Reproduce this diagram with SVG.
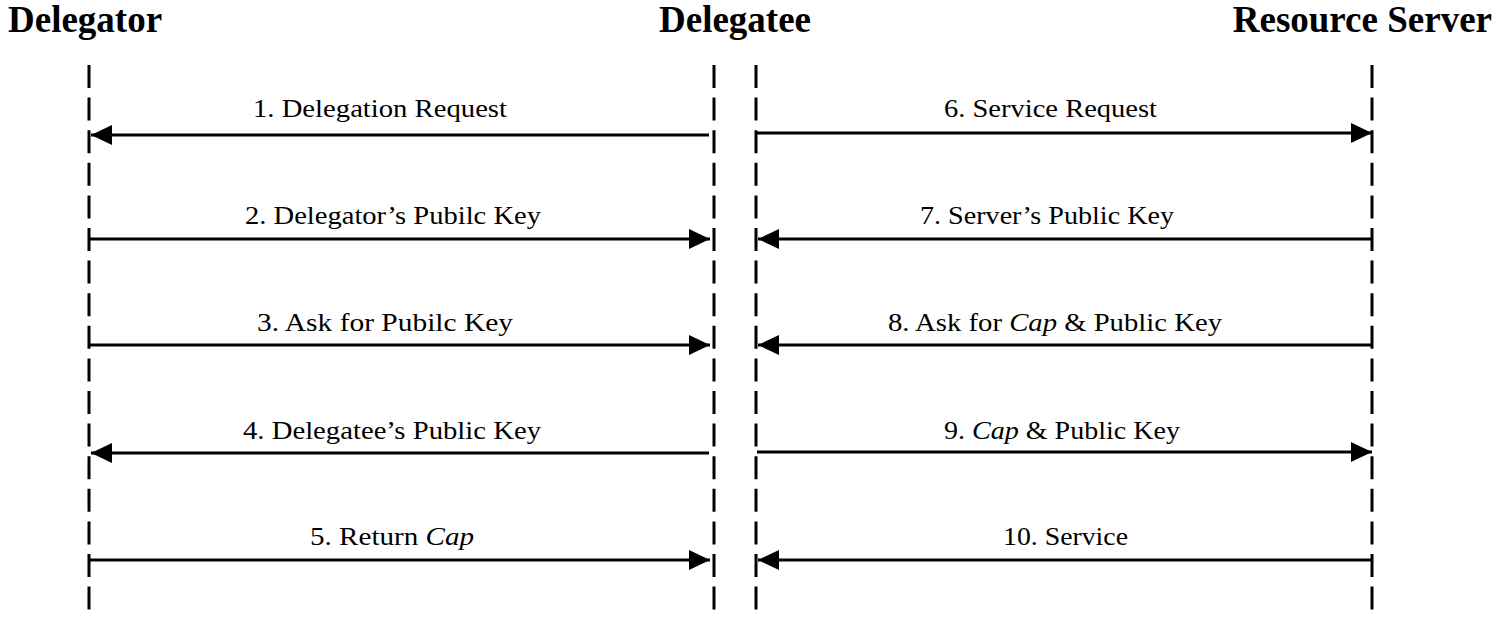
<svg xmlns="http://www.w3.org/2000/svg" width="1500" height="618" viewBox="0 0 1500 618">
<style>
.title{font-family:"Liberation Serif","Times New Roman",serif;font-weight:bold;font-size:37px;fill:#000}
.lbl{font-family:"Liberation Serif","Times New Roman",serif;font-size:25px;fill:#000}
.life{stroke:#000;stroke-width:3;stroke-dasharray:23 9.6;fill:none}
.msg{stroke:#000;stroke-width:3;fill:none;marker-end:url(#ah)}
</style>
<defs>
<marker id="ah" markerUnits="userSpaceOnUse" markerWidth="22" markerHeight="20" viewBox="0 0 22 20" refX="21" refY="10" orient="auto">
<path d="M0,0 L21,10 L0,20 Z" fill="#000"/>
</marker>
</defs>
<rect width="1500" height="618" fill="#fff"/>
<g id="delegator">
<text class="title" x="8" y="32">Delegator</text>
<line class="life" x1="89" y1="65" x2="89" y2="612"/>
</g>
<g id="delegatee">
<text class="title" x="735" y="32" text-anchor="middle">Delegatee</text>
<line class="life" x1="714" y1="65" x2="714" y2="612"/>
<line class="life" x1="756" y1="65" x2="756" y2="612"/>
</g>
<g id="resource-server">
<text class="title" x="1492" y="32" text-anchor="end">Resource Server</text>
<line class="life" x1="1372" y1="65" x2="1372" y2="612"/>
</g>
<g id="connectors">
<line class="msg" x1="709" y1="135" x2="91" y2="135"/>
<line class="msg" x1="89" y1="239" x2="710" y2="239"/>
<line class="msg" x1="89" y1="345" x2="710" y2="345"/>
<line class="msg" x1="709" y1="453" x2="91" y2="453"/>
<line class="msg" x1="89" y1="560" x2="710" y2="560"/>
<line class="msg" x1="757" y1="133" x2="1372" y2="133"/>
<line class="msg" x1="1372" y1="239" x2="758" y2="239"/>
<line class="msg" x1="1372" y1="345" x2="758" y2="345"/>
<line class="msg" x1="757" y1="452" x2="1372" y2="452"/>
<line class="msg" x1="1372" y1="560" x2="758" y2="560"/>
</g>
<g id="labels">
<text class="lbl" x="253" y="117" textLength="254" lengthAdjust="spacingAndGlyphs">1. Delegation Request</text>
<text class="lbl" x="245" y="224" textLength="296" lengthAdjust="spacingAndGlyphs">2. Delegator’s Pubilc Key</text>
<text class="lbl" x="257" y="331" textLength="256" lengthAdjust="spacingAndGlyphs">3. Ask for Pubilc Key</text>
<text class="lbl" x="243" y="439" textLength="298" lengthAdjust="spacingAndGlyphs">4. Delegatee’s Public Key</text>
<text class="lbl" x="310" y="545" textLength="164" lengthAdjust="spacingAndGlyphs">5. Return <tspan font-style="italic">Cap</tspan></text>
<text class="lbl" x="944" y="117" textLength="213" lengthAdjust="spacingAndGlyphs">6. Service Request</text>
<text class="lbl" x="920" y="224" textLength="254" lengthAdjust="spacingAndGlyphs">7. Server’s Public Key</text>
<text class="lbl" x="888" y="331" textLength="334" lengthAdjust="spacingAndGlyphs">8. Ask for <tspan font-style="italic">Cap</tspan> &amp; Public Key</text>
<text class="lbl" x="944" y="439" textLength="236" lengthAdjust="spacingAndGlyphs">9. <tspan font-style="italic">Cap</tspan> &amp; Public Key</text>
<text class="lbl" x="1003" y="545" textLength="125" lengthAdjust="spacingAndGlyphs">10. Service</text>
</g>
</svg>
